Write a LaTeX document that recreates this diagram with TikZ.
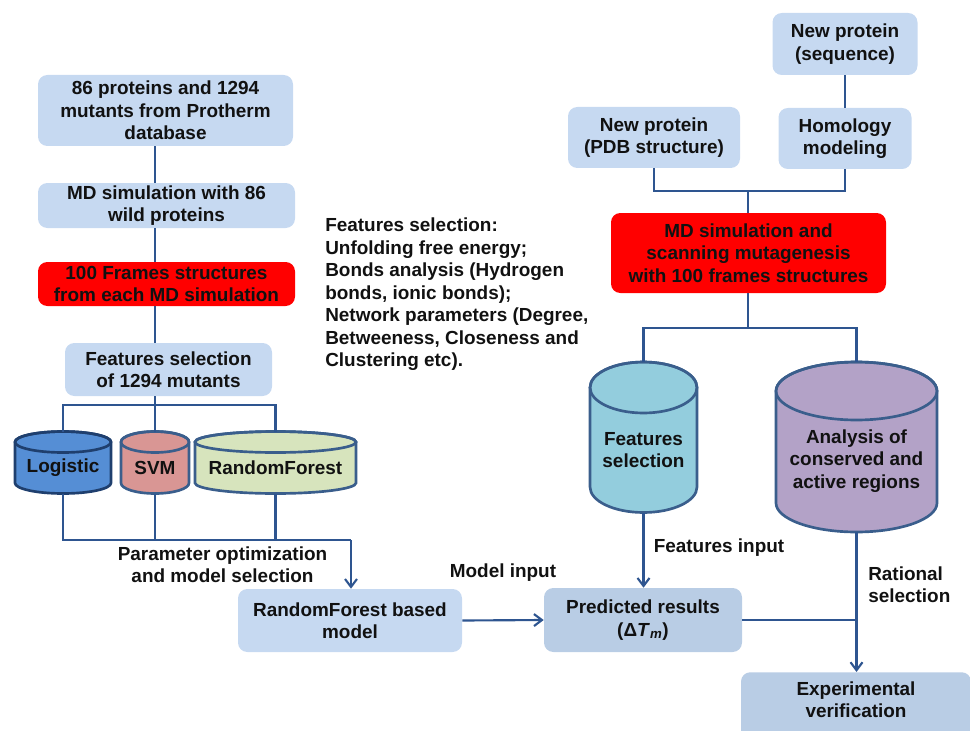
\documentclass[tikz,border=0pt]{standalone}
\usepackage{fontspec}
\setmainfont{Liberation Sans}
\usetikzlibrary{arrows.meta}
\definecolor{boxblue}{HTML}{C6D9F1}
\definecolor{boxblue2}{HTML}{B9CDE5}
\definecolor{linecol}{HTML}{2E5590}
\definecolor{cylcol}{HTML}{3A5E8C}
\definecolor{logline}{HTML}{1F3F6E}
\definecolor{txtcol}{HTML}{111111}
\definecolor{logfill}{HTML}{558ED5}
\definecolor{svmfill}{HTML}{D99694}
\definecolor{rffill}{HTML}{D7E4BD}
\definecolor{featfill}{HTML}{93CDDD}
\definecolor{analfill}{HTML}{B3A2C7}
\definecolor{redbox}{HTML}{FF0000}
\tikzset{
  every node/.style={font=\fontsize{14.2}{16.8}\selectfont\bfseries, text=txtcol, align=center},
  box/.style={fill=boxblue, rounded corners=7pt, inner sep=0pt},
  sz/.style 2 args={minimum width=#1*0.75pt, minimum height=#2*0.75pt},
  conn/.style={draw=linecol, line width=1.6pt},
  arr/.style={conn, -{Straight Barb[length=6pt,width=9pt,line width=1.6pt]}},
  cylstyle/.style={draw=cylcol, line width=2pt},
  plain/.style={inner sep=0pt},
}
\newcommand{\mycyl}[8]{%
  \filldraw[cylstyle, draw=#8, fill=#7] (#2-#3,#4) -- (#2-#3,#5)
     arc[start angle=180, end angle=0, x radius=#3, y radius=#6]
     -- (#2+#3,#4)
     arc[start angle=360, end angle=180, x radius=#3, y radius=#6] -- cycle;
  \draw[cylstyle, draw=#8] (#2,#4) ellipse[x radius=#3, y radius=#6];
  \coordinate (#1top) at (#2,#4-#6);
  \coordinate (#1bot) at (#2,#5+#6);
}
\begin{document}
\begin{tikzpicture}[x=0.75pt,y=-0.75pt]
\path[use as bounding box] (0,0) rectangle (970,731);
\clip (0,0) rectangle (970,731);

% ---------- left column ----------
\node[box, sz={255}{71}] (b1) at (165.5,110.5) {86 proteins and 1294\\mutants from Protherm\\database};
\node[box, sz={257}{45}] (b2) at (166.5,205.5) {MD simulation with 86\\wild proteins};
\node[box, fill=redbox, sz={257}{44}] (b3) at (166.5,284) {100 Frames structures\\from each MD simulation};
\node[box, sz={207}{53}] (b4) at (168.5,369.5) {Features selection\\of 1294 mutants};

\coordinate (lx) at (155,0);
\draw[conn] (b1.south -| lx) -- (b2.north -| lx);
\draw[conn] (b2.south -| lx) -- (b3.north -| lx);
\draw[conn] (b3.south -| lx) -- (b4.north -| lx);

\mycyl{log}{63}{48}{442}{483}{10.5}{logfill}{logline}
\mycyl{svm}{155}{34}{442}{483}{10.5}{svmfill}{cylcol}
\mycyl{rf}{275.5}{80.5}{442}{483}{10.5}{rffill}{cylcol}
\node (log) at (63,468) {Logistic};
\node (svm) at (155,468) {SVM};
\node (rf) at (275.5,468) {RandomForest};

\coordinate (j1) at (155,405);
\draw[conn] (b4.south -| lx) -- (j1);
\draw[conn] (logtop) |- (j1) -| (rftop);
\draw[conn] (j1) -- (svmtop);

\node[box, sz={224}{63}] (rfm) at (350,620.5) {RandomForest based\\model};
\coordinate (j2) at (351,540);
\draw[conn] (logbot) |- (j2);
\draw[conn] (svmbot) -- (svmbot |- j2);
\draw[conn] (rfbot) -- (rfbot |- j2);
\draw[arr] (j2) -- (rfm.north -| j2);
\node (plab) at (222.5,564.5) {Parameter optimization\\and model selection};

% ---------- middle text ----------
\node[plain, align=left, anchor=west, font=\fontsize{14.2}{16.9}\selectfont\bfseries] (fsel) at (325,294.5)
 {Features selection:\\Unfolding free energy;\\Bonds analysis (Hydrogen\\bonds, ionic bonds);\\Network parameters (Degree,\\Betweeness, Closeness and\\Clustering etc).};

% ---------- right column ----------
\node[box, sz={145}{62}] (seq) at (845,44) {New protein\\(sequence)};
\node[box, sz={172}{61}] (pdb) at (654,137.5) {New protein\\(PDB structure)};
\node[box, sz={133}{61}] (hom) at (845,138.5) {Homology\\modeling};
\node[box, fill=redbox, sz={275}{80}] (red2) at (748.5,253) {MD simulation and\\scanning mutagenesis\\with 100 frames structures};

\draw[conn] (seq) -- (hom);
\coordinate (j4) at (748,191);
\draw[conn] (pdb.south) |- (j4);
\draw[conn] (hom.south) |- (j4);
\draw[conn] (j4) -- (red2.north -| j4);

\mycyl{feat}{643.5}{53.5}{387.5}{487}{25.5}{featfill}{cylcol}
\mycyl{anal}{856.5}{80.5}{391}{503}{29}{analfill}{cylcol}
\node (feat) at (643.5,450) {Features\\selection};
\node (anal) at (856.5,461) {Analysis of\\conserved and\\active regions};

\coordinate (j5) at (748,328);
\draw[conn] (red2.south -| j5) -- (j5);
\draw[conn] (feattop) |- (j5) -| (analtop);

% ---------- bottom ----------
\node[box, fill=boxblue2, sz={198}{64}] (pred) at (643,620) {Predicted results\\(Δ\textit{T}\textsubscript{\textit{m}})};
\node[box, fill=boxblue2, sz={230}{80}, anchor=north] (exp) at (856,672) {};
\node (exptxt) at (856,700) {Experimental\\verification};

\draw[arr] (rfm.east) -- (pred.west);
\node (mlab) at (503,573) {Model input};
\draw[arr] (featbot) -- (pred.north -| featbot);
\node (flab) at (719,548) {Features input};
\coordinate (j3) at (856.5,620);
\draw[conn] (pred.east) -- (j3);
\draw[arr] (analbot) -- (exp.north -| analbot);
\node[plain, align=left, anchor=west] (rlab) at (868,584.5) {Rational\\selection};
\end{tikzpicture}
\end{document}
